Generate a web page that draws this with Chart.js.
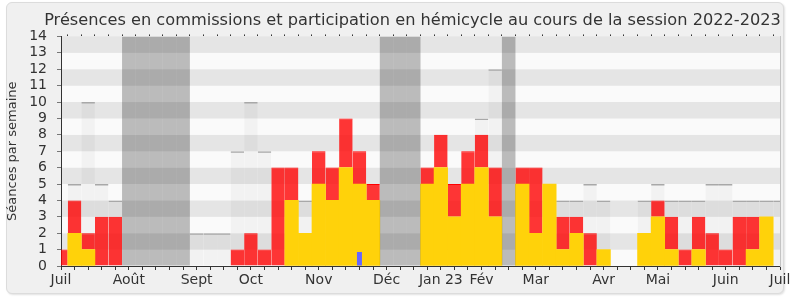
<!DOCTYPE html>
<html lang="fr">
<head>
<meta charset="utf-8">
<title>Présences 2022-2023</title>
<script src="https://cdn.jsdelivr.net/npm/chart.js@4/dist/chart.umd.min.js"></script>
<style>
  body { margin: 0; background: #fff; }
  #wrap { position: relative; width: 790px; height: 300px; overflow: hidden; }
  #frame {
    position: absolute; left: 6px; top: 2px; width: 776px; height: 290px;
    background: #f0f0f0; border: 1px solid #dcdcdc; border-radius: 6px;
    box-shadow: 1px 1px 2px rgba(0,0,0,0.12);
  }
  #chart { position: absolute; left: 0; top: 0; }
</style>
</head>
<body>
<div id="wrap">
  <div id="frame"></div>
  <canvas id="chart" width="790" height="300"></canvas>
</div>
<script>
// data ----------------------------------------------------------
// one entry per week, week 0 = first week of July 2022
const commission = [0,2,1,0,0, 0,0,0,0,0, 0,0,0,0,0, 0,0,4,2,5, 4,6,5,4,0, 0,0,5,6,3,
                    5,6,3,0,5, 2,5,1,2,0, 1,0,0,2,3, 1,0,1,0,0, 0,1,3,0];
const hemicycle  = [1,2,1,3,3, 0,0,0,0,0, 0,0,0,1,2, 1,6,2,0,2, 2,3,2,1,0, 0,0,1,2,2,
                    2,2,3,0,1, 4,0,2,1,2, 0,0,0,0,1, 2,1,2,2,1, 3,2,0,0];
const mediane    = [0,5,10,5,4, 0,0,0,0,0, 2,2,2,7,10, 7,0,4,4,5, 4,5,5,4,0, 0,0,5,5,3,
                    5,9,12,0,5, 2,4,4,4,5, 4,0,0,4,5, 4,4,4,5,5, 4,4,4,4];
const questions  = [0,0,0,0,0, 0,0,0,0,0, 0,0,0,0,0, 0,0,0,0,0, 0,0,0.85,0,0, 0,0,0,0,0,
                    0,0,0,0,0, 0,0,0,0,0, 0,0,0,0,0, 0,0,0,0,0, 0,0,0,0];
const vacances   = [5,6,7,8,9, 24,25,26, 33];

const monthWeeks  = [0, 5, 10, 14, 19, 24, 28, 31, 35, 40, 44, 49, 53];
const monthLabels = ["Juil","Août","Sept","Oct","Nov","Déc","Jan 23","Fév","Mar","Avr","Mai","Juin","Juil"];
const yMax = 14;
const lastWeek = 53;

// helpers -------------------------------------------------------
const toPoints = arr => arr.map((v, i) => ({ x: i, y: v ? v : null }));
const monthLabel = v => {
  const i = monthWeeks.indexOf(v);
  return i >= 0 ? monthLabels[i] : "";
};

// alternating horizontal stripes behind the plot
const stripes = {
  id: "stripes",
  beforeDraw(chart) {
    const { ctx, chartArea: a, scales: { y } } = chart;
    ctx.save();
    for (let v = 0; v < yMax; v++) {
      const top = y.getPixelForValue(v + 1);
      const bot = y.getPixelForValue(v);
      ctx.fillStyle = v % 2 ? "#e5e5e5" : "#fafafa";
      ctx.fillRect(a.left, top, a.right - a.left, bot - top);
    }
    ctx.restore();
  }
};

Chart.defaults.font.family = "'DejaVu Sans', sans-serif";
Chart.defaults.color = "#333";

// ----------------------------------------------------------------
new Chart(document.getElementById("chart"), {
  type: "bar",
  data: {
    datasets: [
      {
        label: "Vacances",
        data: vacances.map(w => ({ x: w, y: yMax })),
        backgroundColor: "rgba(0,0,0,0.25)",
        inflateAmount: 0,
        stack: "vac"
      },
      {
        label: "Questions orales",
        data: toPoints(questions),
        backgroundColor: "#6666ff",
        barPercentage: 0.37,
        stack: "q"
      },
      {
        label: "Présences en commission",
        data: toPoints(commission),
        backgroundColor: "#ffd20a",
        stack: "p"
      },
      {
        label: "Participation en hémicycle",
        data: toPoints(hemicycle),
        backgroundColor: "rgba(255,0,0,0.79)",
        borderColor: "#ff0000",
        borderWidth: { top: 1, right: 0, bottom: 0, left: 0 },
        inflateAmount: 0,
        stack: "p"
      },
      {
        label: "Médiane",
        data: toPoints(mediane),
        backgroundColor: "rgba(0,0,0,0.03)",
        borderColor: "#a8a8a8",
        borderWidth: { top: 1.5, right: 0, bottom: 0, left: 0 },
        inflateAmount: 0,
        stack: "m"
      }
    ]
  },
  options: {
    responsive: false,
    animation: false,
    devicePixelRatio: 1,
    // negative right padding keeps the title centred like the original
    layout: { padding: { left: 28, right: -7, top: 0, bottom: 0 } },
    datasets: {
      bar: { grouped: false, barPercentage: 1, categoryPercentage: 1, clip: 0 }
    },
    plugins: {
      legend: { display: false },
      tooltip: { enabled: false },
      title: {
        display: true,
        text: "Présences en commissions et participation en hémicycle au cours de la session 2022-2023",
        font: { size: 16.2, weight: "normal" },
        color: "#333",
        padding: { top: 11, bottom: 4 }
      }
    },
    scales: {
      x: {
        type: "linear", min: 0, max: lastWeek, offset: false,
        ticks: {
          stepSize: 1, maxTicksLimit: 100, autoSkip: false,
          maxRotation: 0, minRotation: 0, padding: 2,
          font: { size: 14 }, color: "#333",
          callback: v => monthLabel(v)
        },
        grid: { drawOnChartArea: false, offset: false, tickLength: 4, color: "#333" },
        border: { color: "#333" },
        afterFit: s => { s.height = 34; s.paddingLeft = 0; s.paddingRight = 0; }
      },
      x2: {
        type: "linear", position: "top", min: 0, max: lastWeek, offset: false,
        ticks: { display: false, stepSize: 1, maxTicksLimit: 100 },
        grid: { drawOnChartArea: false, tickLength: 2, color: "#333" },
        border: { display: false },
        afterFit: s => { s.height = 2; s.paddingLeft = 0; s.paddingRight = 0; }
      },
      y: {
        min: 0, max: yMax, stacked: true,
        ticks: { stepSize: 1, autoSkip: false, padding: 10, font: { size: 14 }, color: "#333" },
        grid: { drawOnChartArea: false, tickLength: 4, color: "#777" },
        border: { color: "#333" },
        title: {
          display: true, text: "Séances par semaine",
          font: { size: 13 }, color: "#333", padding: { top: -23, bottom: 0 }
        },
        afterFit: s => { s.width = 33; }
      },
      y2: {
        position: "right", min: 0, max: yMax,
        ticks: { display: false },
        grid: { display: false },
        border: { color: "#c4c4c4" },
        afterFit: s => { s.width = 17; }
      }
    }
  },
  plugins: [stripes]
});
</script>
</body>
</html>
